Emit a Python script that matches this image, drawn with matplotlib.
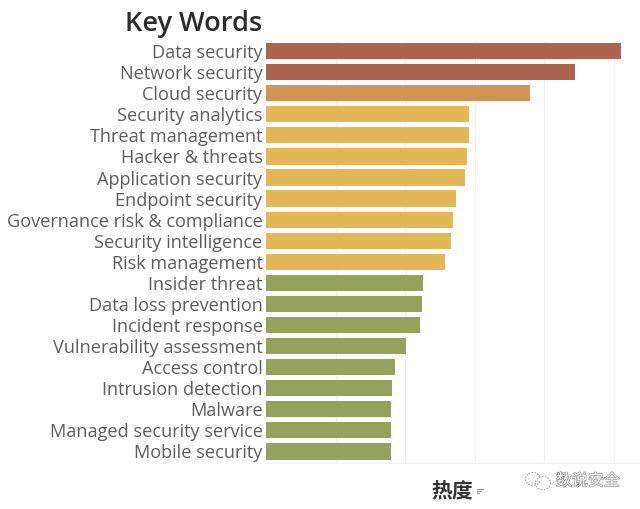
#!/usr/bin/env python3
"""Horizontal bar chart of security key words ranked by popularity."""

import matplotlib
matplotlib.use("Agg")
import matplotlib.patheffects as pe
import matplotlib.pyplot as plt
from matplotlib.lines import Line2D
from matplotlib.patches import Arc

keywords = [
    "Data security", "Network security", "Cloud security", "Security analytics",
    "Threat management", "Hacker & threats", "Application security",
    "Endpoint security", "Governance risk & compliance", "Security intelligence",
    "Risk management", "Insider threat", "Data loss prevention", "Incident response",
    "Vulnerability assessment", "Access control", "Intrusion detection", "Malware",
    "Managed security service", "Mobile security",
]
heat = [511, 445, 380, 292, 292, 289, 286, 273, 269, 266,
        258, 226, 224, 222, 201, 186, 181, 180, 180, 180]
tiers = [0, 0, 1] + [2] * 8 + [3] * 9
tier_colors = ["#ad644e", "#d29553", "#e2b857", "#95a25b"]
grid_ticks = [100, 200, 300, 400, 500]

W, H = 640, 509
LEFT, RIGHT, TOP, BOTTOM = 266, 640, 41, 463

fig = plt.figure(figsize=(W / 100, H / 100), dpi=100)
ax = fig.add_axes([LEFT / W, 1 - BOTTOM / H, (RIGHT - LEFT) / W, (BOTTOM - TOP) / H])

ypos = list(range(len(keywords)))
ax.barh(ypos, heat, height=0.77, color=[tier_colors[t] for t in tiers], zorder=2)
ax.set_xlim(0, 538)
ax.set_ylim(len(keywords) - 0.45, -0.48)

ax.set_yticks(ypos, keywords, fontsize=13.1, color="#5c5c5c", family="Open Sans")
ax.set_xticks(grid_ticks, [])
ax.tick_params(length=0, pad=2.5)
ax.grid(axis="x", color="#f0f0f0", lw=0.8, zorder=0)
for side in ("top", "right", "left"):
    ax.spines[side].set_visible(False)
ax.spines["bottom"].set_color("#f0f0f0")

fig.text(262 / W, 1 - 24 / H, "Key Words", ha="right", va="center",
         fontsize=19.5, color="#2b2b2b", family="Open Sans", fontweight="semibold")
fig.text(452 / W, 1 - 491 / H, "热度", ha="center", va="center", fontsize=15,
         color="#333333", fontweight="bold", family=["Noto Sans CJK SC", "DejaVu Sans"])

# sort indicator next to the axis title
for y, x1 in [(488.5, 483), (490.5, 481), (492.5, 479)]:
    fig.add_artist(Line2D([477 / W, x1 / W], [1 - y / H] * 2, color="#777777", lw=0.6))

# watermark: chat bubbles and account name
fig.text(588 / W, 1 - 481 / H, "数说安全", ha="center", va="center", fontsize=11.5,
         color="white", family=["Noto Sans CJK SC", "DejaVu Sans"],
         path_effects=[pe.withStroke(linewidth=0.9, foreground="#8c8c8c")])
overlay = fig.add_axes([0, 0, 1, 1], facecolor="none")
overlay.set_xlim(0, W)
overlay.set_ylim(H, 0)
overlay.axis("off")
overlay.add_patch(Arc((533, 479), 15, 13, theta1=20, theta2=340, color="#999999",
                      lw=0.7, ls=(0, (1.5, 1.5))))
overlay.add_patch(Arc((543, 483), 15, 13, theta1=0, theta2=360, color="#999999",
                      lw=0.7, ls=(0, (1.5, 1.5))))

fig.savefig("out.png", dpi=100)
